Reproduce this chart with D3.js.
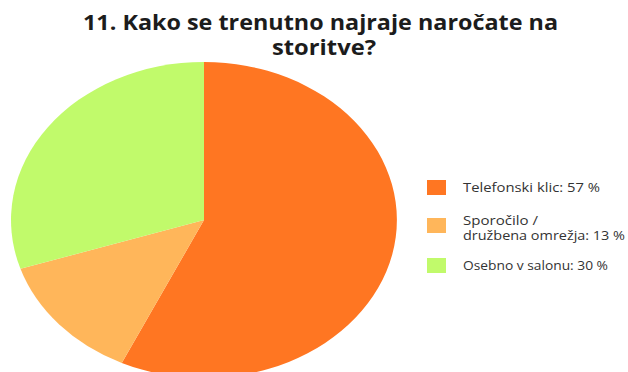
<!DOCTYPE html>
<html>
<head>
<meta charset="utf-8">
<script src="https://cdn.jsdelivr.net/npm/d3@7"></script>
<style>
  html, body { margin: 0; padding: 0; background: #ffffff; }
  svg { display: block; }
</style>
</head>
<body>
<svg id="chart" width="628" height="372"></svg>
<script>
// Survey question 11: preferred way of booking services
const titleLines = ["11. Kako se trenutno najraje naročate na", "storitve?"];
const categories = ["Telefonski klic", "Sporočilo / družbena omrežja", "Osebno v salonu"];
const legendLines = [["Telefonski klic: 57 %"], ["Sporočilo /", "družbena omrežja: 13 %"], ["Osebno v salonu: 30 %"]];
const values = [57, 13, 30];
const colors = ["#ff7622", "#ffb65a", "#c1fa6b"];

const svg = d3.select("#chart");

// Title: one text element, two centred lines
const titleSpec = [
  { y: 30, x0: 83, x1: 558 },
  { y: 55, x0: 272, x1: 376 }
];
svg.append("text")
  .style("font-family", "'Open Sans', sans-serif")
  .style("font-weight", "700")
  .style("font-size", "21px")
  .style("fill", "#1c1c1c")
  .selectAll("tspan")
  .data(titleLines)
  .join("tspan")
  .attr("x", (d, i) => titleSpec[i].x0)
  .attr("y", (d, i) => titleSpec[i].y)
  .attr("textLength", (d, i) => titleSpec[i].x1 - titleSpec[i].x0)
  .attr("lengthAdjust", "spacingAndGlyphs")
  .text(d => d);

// Pie, drawn as an ellipse by scaling a unit-radius arc
const cx = 204, cy = 220, rx = 193, ry = 158;
const pie = d3.pie().sort(null).value(d => d);
const arc = d3.arc().innerRadius(0).outerRadius(1);
const color = d3.scaleOrdinal().domain(categories).range(colors);

svg.append("g")
  .attr("transform", `translate(${cx},${cy}) scale(${rx},${ry})`)
  .selectAll("path")
  .data(pie(values))
  .join("path")
  .attr("d", arc)
  .attr("fill", (d, i) => color(categories[i]));

// Legend: swatch plus one or two lines of text per category
const legendLayout = [
  { sy: 180, ty: [192], w: [137] },
  { sy: 218, ty: [225, 240], w: [75, 162] },
  { sy: 258, ty: [270], w: [145] }
];
const item = svg.append("g")
  .selectAll("g")
  .data(categories)
  .join("g");

item.append("rect")
  .attr("x", 427)
  .attr("y", (d, i) => legendLayout[i].sy)
  .attr("width", 19)
  .attr("height", 15)
  .attr("fill", d => color(d));

item.each(function (d, i) {
  const t = d3.select(this).append("text")
    .style("font-family", "'Open Sans', sans-serif")
    .style("font-size", "13.5px")
    .style("fill", "#333333");
  t.selectAll("tspan")
    .data(legendLines[i])
    .join("tspan")
    .attr("x", 463)
    .attr("y", (line, j) => legendLayout[i].ty[j])
    .attr("textLength", (line, j) => legendLayout[i].w[j])
    .attr("lengthAdjust", "spacingAndGlyphs")
    .text(line => line);
});
</script>
</body>
</html>
